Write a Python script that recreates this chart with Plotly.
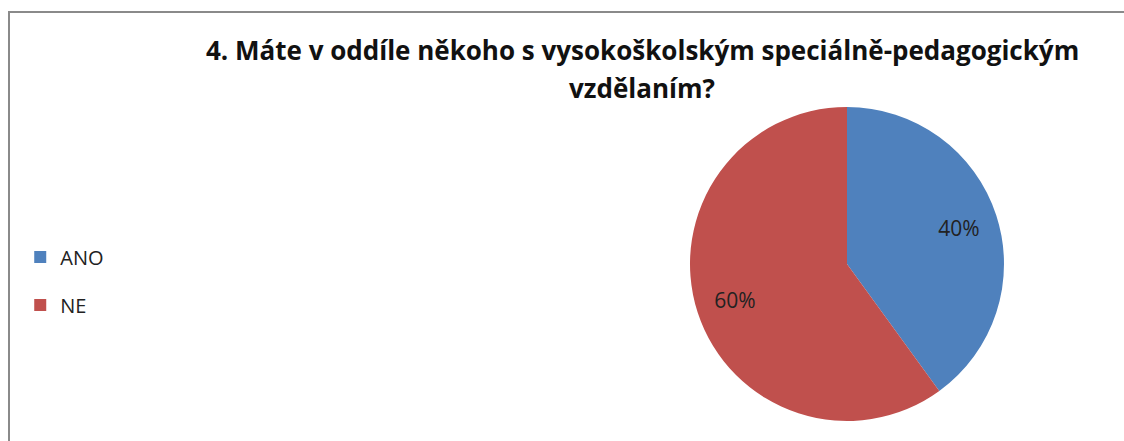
import plotly.graph_objects as go

categories = ["ANO", "NE"]
values = [40, 60]
colors = ["#4F81BD", "#C0504D"]
title_line1 = "4. Máte v oddíle někoho s vysokoškolským speciálně-pedagogickým"
title_line2 = "vzdělaním?"

W, H = 1124, 441
cx, cy, R = 847, 264, 157
dom = dict(x=[(cx - R) / W, (cx + R) / W], y=[1 - (cy + R) / H, 1 - (cy - R) / H])

fig = go.Figure()
fig.add_trace(go.Pie(
    labels=categories, values=values, sort=False, direction="clockwise", rotation=0,
    marker=dict(colors=colors, line=dict(width=0)),
    textinfo="none", showlegend=False, hoverinfo="label+percent", domain=dom,
))
# transparent ring overlay that carries the percentage labels further out
fig.add_trace(go.Pie(
    labels=categories, values=values, sort=False, direction="clockwise", rotation=0,
    hole=0.5, marker=dict(colors=["rgba(0,0,0,0)"] * len(values), line=dict(width=0)),
    texttemplate="%{percent:.0%}", textposition="inside", insidetextorientation="horizontal",
    textfont=dict(family="Open Sans", size=21, color="#222222"),
    showlegend=False, hoverinfo="skip", domain=dom,
))
for name, col in zip(categories, colors):
    fig.add_trace(go.Scatter(
        x=[None], y=[None], mode="markers", name=name, legendgroup=name,
        marker=dict(symbol="square", size=12, color=col),
    ))

fig.update_layout(
    width=W, height=H, margin=dict(l=0, r=0, t=0, b=0),
    paper_bgcolor="white", plot_bgcolor="white",
    xaxis=dict(visible=False), yaxis=dict(visible=False),
    legend=dict(x=0.018, y=1 - 281 / H, yanchor="middle", xanchor="left",
                font=dict(family="Open Sans", size=20, color="#222222"),
                traceorder="grouped", tracegroupgap=19, itemwidth=30,
                bgcolor="rgba(0,0,0,0)"),
    annotations=[
        dict(text="<b>" + title_line1 + "</b>", x=642 / W, y=1 - 50 / H, xref="paper", yref="paper",
             xanchor="center", yanchor="middle", showarrow=False,
             font=dict(family="Open Sans", size=26, color="#111111")),
        dict(text="<b>" + title_line2 + "</b>", x=642 / W, y=1 - 88 / H, xref="paper", yref="paper",
             xanchor="center", yanchor="middle", showarrow=False,
             font=dict(family="Open Sans", size=26, color="#111111")),
    ],
    shapes=[dict(type="rect", xref="paper", yref="paper", x0=9 / W, y0=-0.05, x1=1.05, y1=1 - 12 / H,
                 line=dict(color="#8a8a8a", width=2), layer="above")],
)
fig.write_html("out.html")
